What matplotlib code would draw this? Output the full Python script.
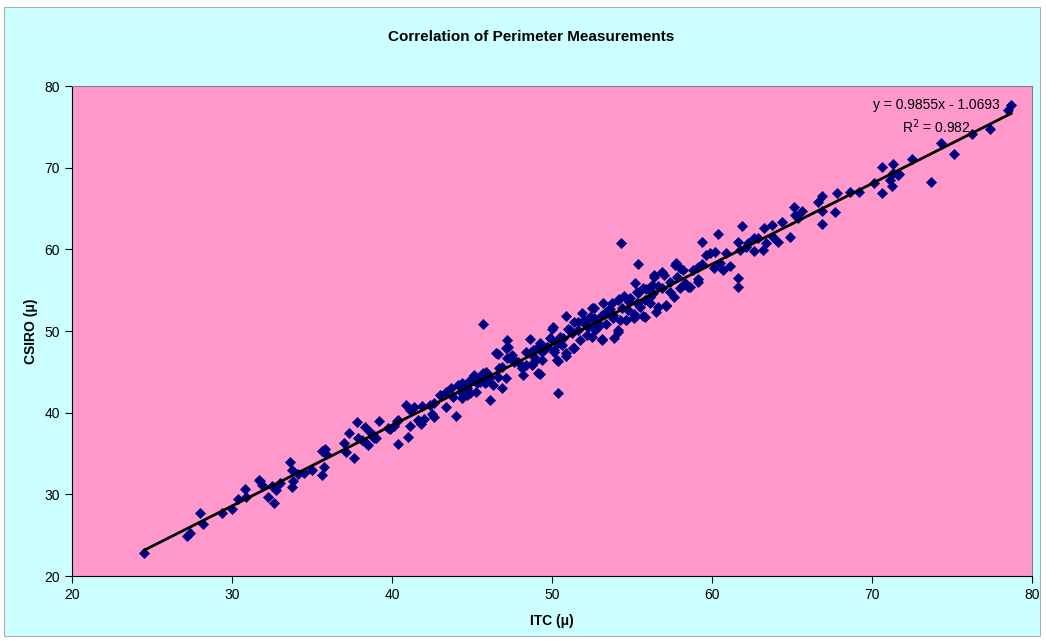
import numpy as np
import matplotlib
matplotlib.use("Agg")
import matplotlib.pyplot as plt
from matplotlib.patches import Rectangle

plt.rcParams['font.family'] = ['Liberation Sans', 'DejaVu Sans']

# ITC vs CSIRO perimeter readings
itc_low = [24.5, 27.2, 27.4, 28.0, 28.2, 29.4, 30.0, 30.4, 30.8, 30.9, 31.7, 31.75, 31.9, 32.25,
           32.6, 32.5, 32.75, 33.0, 33.6, 33.75, 33.8, 33.75, 34.1, 34.5, 35.0, 35.6, 35.8, 35.9,
           35.75, 35.6, 37.0, 37.1, 37.3, 37.6, 37.8, 37.9, 38.1, 38.3, 38.4, 38.5, 38.6, 38.8,
           39.0, 39.2, 39.75, 39.9, 38.9]
csiro_low = [22.8, 24.9, 25.3, 27.7, 26.4, 27.7, 28.2, 29.4, 30.6, 29.7, 31.8, 31.6, 31.1, 29.7,
             28.9, 31.0, 30.5, 31.4, 34.0, 33.0, 31.6, 30.9, 32.5, 32.6, 33.0, 35.3, 35.5, 34.9,
             33.3, 32.4, 36.3, 35.2, 37.5, 34.4, 38.9, 36.9, 36.7, 38.2, 36.3, 36.0, 37.6, 37.3,
             36.9, 39.0, 38.1, 38.0, 36.9]

itc_midlow = [40.1, 40.3, 40.4, 40.4, 40.9, 41.0, 41.1, 41.1, 41.4, 41.6, 41.7, 41.9, 41.8, 42.0,
              42.4, 42.5, 42.6, 42.6, 43.0, 43.4, 43.4, 43.7, 43.8, 44.0, 44.1, 44.3, 44.4, 44.4,
              44.7, 44.7, 44.9, 44.9, 45.1, 45.25, 45.3, 45.4, 45.5, 45.7, 45.7, 45.8, 45.9, 45.9,
              46.1, 46.1, 46.3, 46.5, 46.6, 46.6, 46.7, 46.9, 46.9, 47.1, 47.1, 47.2, 47.2, 47.25,
              47.5, 47.6, 47.6]
csiro_midlow = [38.4, 39.0, 39.1, 36.2, 40.9, 37.0, 38.4, 40.3, 40.7, 39.1, 39.0, 40.8, 38.6, 39.2,
                40.9, 39.8, 39.5, 41.2, 42.2, 40.7, 42.5, 43.0, 41.9, 39.6, 43.4, 42.5, 43.6, 41.8,
                42.2, 43.0, 44.0, 42.4, 44.6, 42.5, 43.6, 44.1, 43.8, 44.9, 50.9, 43.6, 45.0, 43.8,
                41.6, 44.4, 43.4, 47.3, 44.4, 47.2, 45.5, 45.6, 43.0, 44.2, 47.9, 48.9, 46.7, 48.0,
                47.1, 46.4, 46.2]

itc_mid = [47.9, 48.1, 48.2, 48.4, 48.4, 48.6, 48.75, 48.8, 48.9, 48.9, 49.1, 49.1, 49.25, 49.25,
           49.4, 49.4, 49.6, 49.7, 49.9, 50.0, 50.0, 50.05, 50.1, 50.1, 50.3, 50.4, 50.4, 50.4,
           50.5, 50.6, 50.7, 50.9, 50.9, 50.9, 51.0, 51.1, 51.25, 51.3, 51.4, 51.4, 51.6, 51.6,
           51.75, 51.9, 52.0, 52.1, 52.2, 52.25, 52.4, 52.4, 52.5, 52.5, 52.6, 52.6, 52.7, 52.7,
           52.8, 52.9]
csiro_mid = [46.2, 45.5, 44.6, 47.4, 45.8, 49.0, 45.8, 47.7, 46.8, 46.2, 48.0, 44.9, 44.7, 48.5,
             47.4, 46.4, 47.9, 48.0, 49.1, 50.2, 48.9, 50.5, 47.7, 47.4, 46.4, 42.4, 48.5, 46.3,
             49.3, 48.3, 49.1, 51.8, 47.0, 47.3, 50.2, 50.1, 49.8, 47.9, 51.1, 47.9, 50.1, 51.1,
             48.9, 52.2, 51.3, 50.7, 49.5, 50.5, 51.7, 51.6, 52.8, 49.3, 52.8, 51.6, 50.1, 50.4,
             51.1, 50.5]

itc_midhigh = [53.1, 53.1, 53.1, 53.2, 53.3, 53.4, 53.5, 53.6, 53.75, 53.8, 53.8, 53.9, 54.1, 54.1,
               54.1, 54.2, 54.25, 54.3, 54.4, 54.5, 54.6, 54.6, 54.75, 54.8, 54.9, 55.1, 55.1, 55.1,
               55.2, 55.3, 55.3, 55.4, 55.4, 55.5, 55.7, 55.7, 55.8, 55.8, 55.9, 56.1, 56.1, 56.25,
               56.3, 56.4, 56.4, 56.5, 56.6, 56.6, 56.9, 56.9, 57.0, 57.1, 57.1, 57.4, 57.4, 57.6,
               57.7, 57.75, 57.8, 58.0, 58.0, 58.2, 58.3, 58.5, 58.6, 58.8, 59.1, 59.1, 59.1, 59.4,
               59.4, 59.6, 59.9]
csiro_midhigh = [49.0, 52.0, 48.9, 53.4, 52.2, 50.9, 52.6, 52.7, 53.4, 52.0, 51.6, 49.1, 50.1, 53.8,
                 49.9, 53.9, 51.3, 60.8, 52.8, 54.3, 51.3, 51.4, 52.6, 53.5, 54.0, 51.6, 52.1, 51.7,
                 55.9, 53.4, 54.8, 54.6, 58.2, 52.9, 51.8, 55.3, 53.8, 51.7, 55.1, 53.4, 54.2, 55.6,
                 54.6, 56.9, 56.6, 52.3, 55.5, 52.9, 57.2, 55.3, 56.9, 53.1, 53.2, 56.0, 54.8, 54.2,
                 58.1, 58.3, 56.6, 57.7, 55.3, 57.5, 55.9, 55.4, 55.4, 57.5, 56.4, 56.0, 57.8, 60.9,
                 58.2, 59.3, 59.5]

itc_high = [60.1, 60.2, 60.4, 60.5, 60.7, 60.9, 61.1, 61.6, 61.6, 61.6, 61.75, 61.9, 62.1, 62.25,
            62.6, 62.6, 62.9, 63.2, 63.25, 63.4, 63.75, 63.8, 64.1, 64.4, 64.9, 65.1, 65.2, 65.4,
            65.6, 66.6, 66.9, 66.9, 66.9, 67.7, 67.8, 68.6, 69.2, 70.1, 70.6, 70.6, 71.1, 71.25,
            71.3, 71.3, 71.6, 71.7, 72.5, 73.7, 74.3, 75.1, 76.25, 77.4, 78.5, 78.7]
csiro_high = [57.7, 59.7, 61.9, 58.3, 57.5, 59.5, 58.0, 60.9, 56.5, 55.4, 59.9, 62.9, 60.3, 60.8,
              61.4, 59.8, 61.4, 59.9, 62.6, 60.8, 63.0, 61.5, 60.9, 63.3, 61.5, 65.2, 64.2, 63.8,
              64.7, 65.8, 66.5, 64.7, 63.1, 64.6, 66.9, 67.0, 67.0, 68.1, 70.1, 66.9, 68.5, 67.8,
              70.4, 69.3, 69.1, 69.2, 71.1, 68.2, 73.0, 71.7, 74.1, 74.7, 77.1, 77.7]

itc = np.array(itc_low + itc_midlow + itc_mid + itc_midhigh + itc_high)
csiro = np.array(csiro_low + csiro_midlow + csiro_mid + csiro_midhigh + csiro_high)

fig = plt.figure(figsize=(10.46, 6.41), dpi=100, facecolor='white')
fig.patches.append(Rectangle((0.004, 0.008), 0.99, 0.981, transform=fig.transFigure,
                             facecolor='#CCFFFF', edgecolor='#B0B0B0', lw=0.8, zorder=-10))

ax = fig.add_axes([0.0688, 0.1014, 0.9178, 0.7644])
ax.set_facecolor('#FF99CC')

ax.scatter(itc, csiro, marker='D', s=32, color='#000080', linewidths=0, zorder=3)

# linear trendline
slope, intercept = np.polyfit(itc, csiro, 1)
xs = np.array([itc.min(), itc.max()])
ax.plot(xs, slope * xs + intercept, color='black', lw=2, zorder=4)

ax.text(0.9, 0.961, 'y = 0.9855x - 1.0693', transform=ax.transAxes,
        ha='center', va='center', fontsize=10)
ax.text(0.9, 0.918, 'R$^2$ = 0.982', transform=ax.transAxes,
        ha='center', va='center', fontsize=10)

ax.set_xlim(20, 80)
ax.set_ylim(20, 80)
ax.set_xticks(range(20, 81, 10))
ax.set_yticks(range(20, 81, 10))
ax.tick_params(direction='out', length=5, labelsize=10, color='black')
for sp in ax.spines.values():
    sp.set_color('#808080')
ax.spines['left'].set_color('black')
ax.spines['bottom'].set_color('black')

ax.set_xlabel('ITC (\u03bc)', fontsize=10, fontweight='bold', labelpad=9)
ax.set_ylabel('CSIRO (\u03bc)', fontsize=10, fontweight='bold', labelpad=5)
fig.text(0.508, 0.943, 'Correlation of Perimeter Measurements', ha='center', va='center',
         fontsize=11, fontweight='bold')

fig.savefig('out.png', dpi=100, facecolor=fig.get_facecolor())
